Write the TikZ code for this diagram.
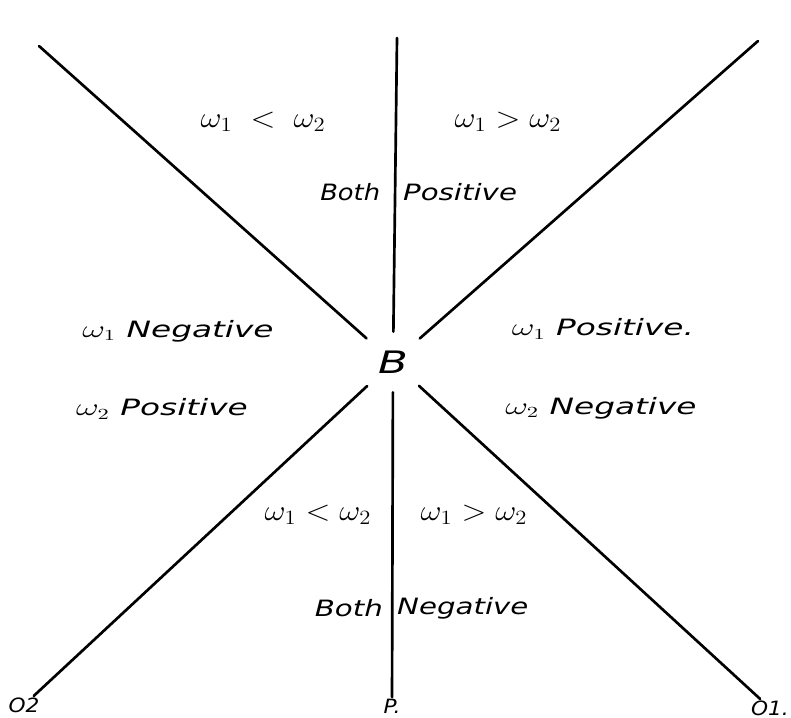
\documentclass[tikz,border=0pt]{standalone}
\usepackage{fontspec}
\setsansfont{DejaVu Sans}

\begin{document}
\begin{tikzpicture}[
  x=0.025cm, y=-0.025cm,
  axis/.style={line width=1.9pt,line cap=round},
  centre/.style={circle,minimum size=1.5cm,inner sep=0pt,xscale=1.4,transform shape,
    font=\sffamily\itshape\fontsize{22}{24}\selectfont},
  lbl/.style={font=\sffamily\itshape\fontsize{16}{18}\selectfont,inner sep=1pt,xscale=1.3,transform shape},
  side/.style={lbl,xscale=1.12},
  rel/.style={font=\fontsize{20}{22}\selectfont,inner sep=1pt,xscale=1.12,transform shape},
  pt/.style={font=\sffamily\itshape\fontsize{14}{16}\selectfont,inner sep=1pt,xscale=1.1,transform shape}
]
  \useasboundingbox (0,0) rectangle (791,718);
  \node[centre] (B) at (393,362) {B};

  % free ends at the top
  \coordinate (tl) at (39,46);
  \coordinate (tc) at (397,38);
  \coordinate (tr) at (758,41);

  % lettered ends at the bottom
  \node[pt] (o2) at (24,705) {O2};
  \node[pt] (p) at (392,706) {P.};
  \node[pt] (o1) at (770,708) {O1.};

  \draw[axis] (tl) -- (B);
  \draw[axis] (tc) -- (B);
  \draw[axis] (tr) -- (B);
  \draw[axis] (o2) -- (B);
  \draw[axis] (p) -- (B);
  \draw[axis] (o1) -- (B);

  % upper sector
  \node[rel] (upl) at (263,122) {$\omega_1 \;<\; \omega_2$};
  \node[rel] (upr) at (508,122) {$\omega_1 > \omega_2$};
  \node[lbl,anchor=east,xscale=0.88] (both1) at (382,192) {Both};
  \node[lbl,anchor=west] (pos1) at (401,192) {Positive};

  % left and right sectors
  \node[side] (w1neg) at (178,331) {$\omega_1$ Negative};
  \node[side] (w2pos) at (162,409) {$\omega_2$ Positive};
  \node[side] (w1pos) at (603,329) {$\omega_1$ Positive.};
  \node[side] (w2neg) at (601,408) {$\omega_2$ Negative};

  % lower sector
  \node[rel] (lol) at (318,515) {$\omega_1 < \omega_2$};
  \node[rel] (lor) at (474,515) {$\omega_1 > \omega_2$};
  \node[lbl,anchor=east] (both2) at (385,608) {Both};
  \node[lbl,anchor=west] (neg2) at (395,608) {Negative};
\end{tikzpicture}
\end{document}
